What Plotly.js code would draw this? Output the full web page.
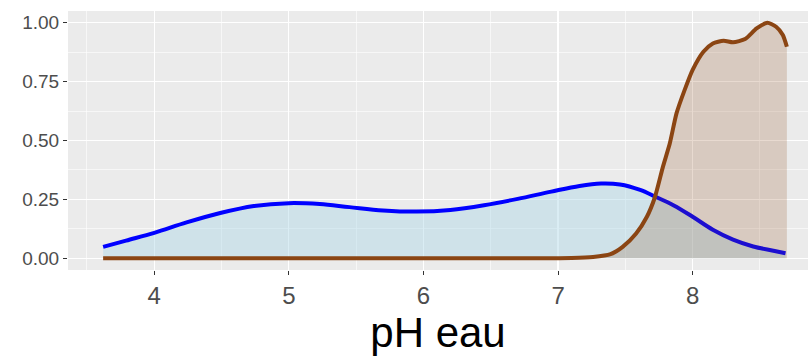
<!DOCTYPE html>
<html>
<head>
<meta charset="utf-8">
<script src="https://cdn.plot.ly/plotly-3.0.1.min.js"></script>
<style>html,body{margin:0;padding:0;background:#fff;}#chart{width:808px;height:357px;}</style>
</head>
<body>
<div id="chart"></div>
<script>
// Blue density (group 1)
const blueX = [3.62,3.79,4.0,4.24,4.49,4.74,5.0,5.23,5.45,5.7,5.95,6.2,6.45,6.7,6.95,7.16,7.32,7.46,7.61,7.72,7.86,8.0,8.15,8.3,8.45,8.6,8.69];
const blueY = [0.048,0.075,0.108,0.152,0.192,0.222,0.234,0.230,0.217,0.203,0.198,0.205,0.225,0.252,0.283,0.307,0.317,0.313,0.290,0.262,0.224,0.176,0.121,0.079,0.050,0.032,0.021];
// Brown density (group 2)
const brownX = [3.62,5.0,6.0,6.8,7.1,7.26,7.39,7.48,7.58,7.66,7.72,7.78,7.83,7.88,7.94,8.0,8.08,8.15,8.23,8.3,8.39,8.475,8.555,8.62,8.67,8.70];
const brownY = [0.0,0.0,0.0,0.0,0.001,0.005,0.017,0.048,0.105,0.176,0.26,0.39,0.487,0.615,0.714,0.80,0.877,0.912,0.924,0.917,0.931,0.976,1.0,0.983,0.948,0.898];
// Axis ticks
const xTicks = [4,5,6,7,8];
const xTickText = ['4','5','6','7','8'];
const yTicks = [0,0.25,0.5,0.75,1];
const yTickText = ['0.00','0.25','0.50','0.75','1.00'];

const traces = [
  {x: blueX, y: blueY, type:'scatter', mode:'lines', fill:'tozeroy',
   fillcolor:'rgba(173,216,230,0.45)', line:{color:'#0000FF', width:4, shape:'spline', smoothing:1}, hoverinfo:'skip'},
  {x: brownX, y: brownY, type:'scatter', mode:'lines', fill:'tozeroy',
   fillcolor:'rgba(139,69,19,0.2)', line:{color:'#8B4513', width:4, shape:'spline', smoothing:0.6}, hoverinfo:'skip'}
];

const layout = {
  width:808, height:357,
  margin:{l:68, r:0, t:11, b:87},
  paper_bgcolor:'#FFFFFF', plot_bgcolor:'#EBEBEB',
  showlegend:false,
  font:{family:'Liberation Sans, Arial, sans-serif'},
  xaxis:{
    range:[3.359, 8.857], tickvals:xTicks, ticktext:xTickText,
    showgrid:true, gridcolor:'#FFFFFF', gridwidth:1.2,
    minor:{tick0:3.5, dtick:1, showgrid:true, gridcolor:'#FFFFFF', gridwidth:0.6, ticklen:0},
    zeroline:false, showline:false,
    ticks:'outside', ticklen:4, tickcolor:'#333333', tickwidth:1.1,
    tickfont:{size:24, color:'#4D4D4D'},
    title:{text:'pH eau', font:{size:42, color:'#000000'}, standoff:6}
  },
  yaxis:{
    range:[-0.05, 1.05], tickvals:yTicks, ticktext:yTickText,
    showgrid:true, gridcolor:'#FFFFFF', gridwidth:1.2,
    minor:{tick0:0.125, dtick:0.25, showgrid:true, gridcolor:'#FFFFFF', gridwidth:0.6, ticklen:0},
    zeroline:false, showline:false,
    ticks:'outside', ticklen:4, tickcolor:'#333333', tickwidth:1.1,
    tickfont:{size:19, color:'#4D4D4D'}
  }
};
Plotly.newPlot('chart', traces, layout, {staticPlot:true, displayModeBar:false});
</script>
</body>
</html>
